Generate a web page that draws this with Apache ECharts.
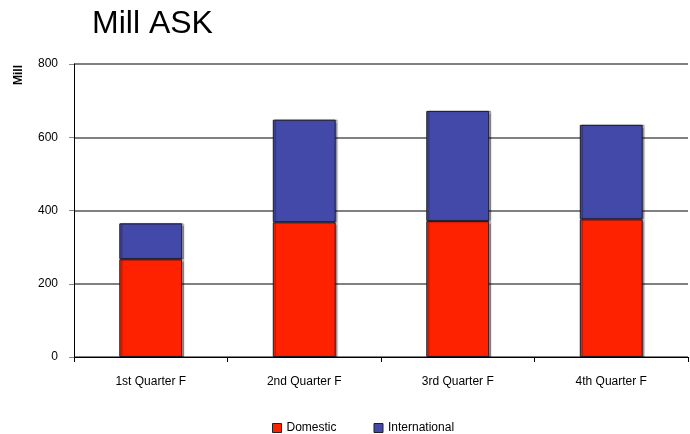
<!DOCTYPE html>
<html>
<head>
<meta charset="utf-8">
<script src="https://cdn.jsdelivr.net/npm/echarts@6/dist/echarts.min.js"></script>
<style>
  html, body { margin: 0; padding: 0; background: #fff; }
  #chart { width: 690px; height: 434px; }
</style>
</head>
<body>
<div id="chart"></div>
<script>
// Available seat kilometres (millions) per quarter
const quarters = ['1st Quarter F', '2nd Quarter F', '3rd Quarter F', '4th Quarter F'];
const domestic = [267, 368, 371, 376];
const international = [98, 280, 301, 258];
const yTicks = [0, 200, 400, 600, 800];

const chart = echarts.init(document.getElementById('chart'));
const font = 'Liberation Sans, Arial, sans-serif';

function barSeries(name, data, color) {
  return {
    name: name,
    type: 'bar',
    stack: 'ask',
    data: data,
    barWidth: '41%',
    itemStyle: {
      color: color,
      borderColor: '#1a1a2a',
      borderWidth: 1,
      shadowColor: 'rgba(0,0,0,0.35)',
      shadowOffsetX: 2,
      shadowOffsetY: 0,
      shadowBlur: 1
    },
    emphasis: { disabled: true }
  };
}

chart.setOption({
  animation: false,
  title: {
    text: 'Mill ASK',
    left: 87,
    top: 3,
    textStyle: { fontFamily: font, fontSize: 32, fontWeight: 'normal', color: '#000' }
  },
  graphic: [{
    type: 'text',
    left: 13,
    top: 65,
    rotation: Math.PI / 2,
    style: { text: 'Mill', font: 'bold 12px ' + font, fill: '#000' }
  }],
  grid: { left: 74, right: 2, top: 64, bottom: 77 },
  legend: {
    top: 417,
    left: 267,
    itemWidth: 9,
    itemHeight: 9,
    itemGap: 37,
    icon: 'rect',
    textStyle: { fontFamily: font, fontSize: 12, color: '#000' },
    itemStyle: { borderColor: '#222', borderWidth: 1 },
    data: ['Domestic', 'International']
  },
  xAxis: {
    type: 'category',
    data: quarters,
    axisLine: { lineStyle: { color: '#000', width: 1 } },
    axisTick: { show: true, length: 5, lineStyle: { color: '#000' } },
    axisLabel: { fontFamily: font, fontSize: 12, color: '#000', margin: 19 }
  },
  yAxis: {
    type: 'value',
    min: yTicks[0],
    max: yTicks[yTicks.length - 1],
    interval: 200,
    axisLine: { show: true, lineStyle: { color: '#000', width: 1 } },
    axisTick: { show: true, length: 5, lineStyle: { color: '#888' } },
    axisLabel: { fontFamily: font, fontSize: 12, color: '#000', margin: 16 },
    splitLine: { lineStyle: { color: '#808080', width: 2 } }
  },
  series: [
    barSeries('Domestic', domestic, '#FF2200'),
    barSeries('International', international, '#4349A8')
  ]
});
</script>
</body>
</html>
